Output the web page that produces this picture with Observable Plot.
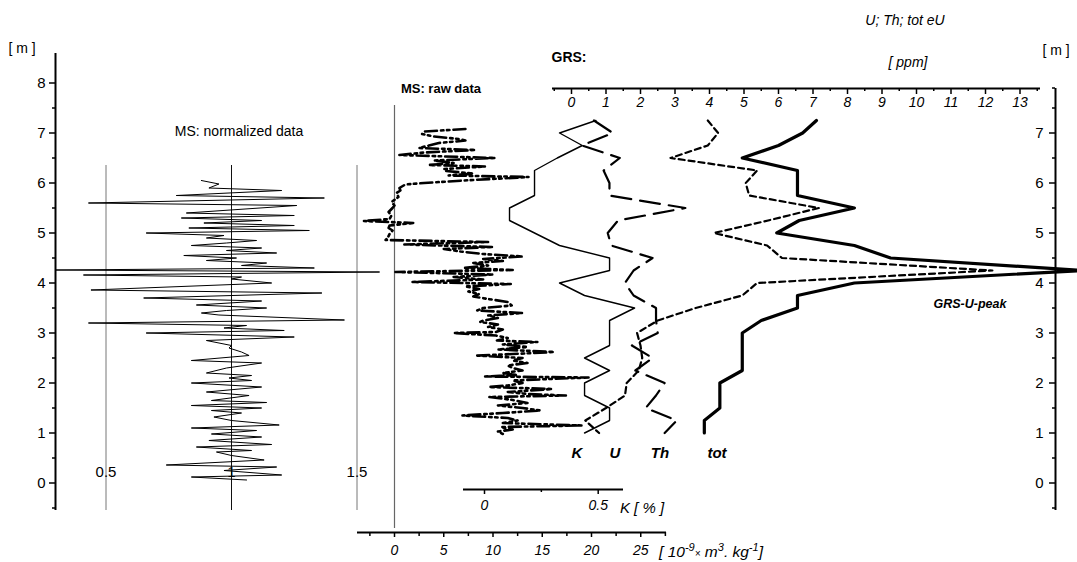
<!DOCTYPE html>
<html><head><meta charset="utf-8">
<script src="https://cdn.jsdelivr.net/npm/d3@7"></script>
<script src="https://cdn.jsdelivr.net/npm/@observablehq/plot@0.6"></script>
<style>
body{margin:0;background:#fff;}
#chart{position:relative;width:1077px;height:562px;overflow:hidden;background:#fff;font-family:"Liberation Sans",Arial,sans-serif;}
#chart svg{position:absolute;left:0;top:0;}
.lbl{position:absolute;white-space:nowrap;transform:translate(-50%,-50%);color:#000;line-height:1;font-size:14px;}
</style></head><body><div id="chart"></div>
<script>
// ---------- axis tick values ----------
const depthTicks = [0,1,2,3,4,5,6,7,8];
const depthMinorTicks = [-0.5,0.5,1.5,2.5,3.5,4.5,5.5,6.5,7.5];
const rightDepthTicks = [0,1,2,3,4,5,6,7];
const rightDepthMinorTicks = [-0.5,0.5,1.5,2.5,3.5,4.5,5.5,6.5,7.5,7.9];
const normTicks = [0.5,1,1.5];
const rawTicks = [0,5,10,15,20,25];
const rawMinorTicks = [-2.5,2.5,7.5,12.5,17.5,22.5,27.5];
const kTicks = [0,0.5];
const kMinorTicks = [0.25];
const ppmTicks = [0,1,2,3,4,5,6,7,8,9,10,11,12,13];
const ppmMinorTicks = [-0.5,0.5,1.5,2.5,3.5,4.5,5.5,6.5,7.5,8.5,9.5,10.5,11.5,12.5,13.5];

// ---------- MS normalized data (depth m, normalized) ----------
const normDepth = [6.05,5.98,5.90,5.85,5.75,5.70,5.60,5.55,5.40,5.35,5.30,5.25,5.20,5.15,5.10,5.05,5.00,4.95,4.90,4.85,4.80,4.75,4.70,4.65,4.60,4.55,4.50,4.45,4.40,4.35,4.30,4.26,4.22,4.16,4.12,4.08,4.00,3.86,3.80,3.70,3.64,3.56,3.50,3.45,3.40,3.36,3.26,3.20,3.15,3.10,3.05,3.00,2.92,2.85,2.75,2.70,2.62,2.55,2.45,2.40,2.30,2.20,2.15,2.10,2.05,2.00,1.92,1.82,1.75,1.65,1.61,1.55,1.50,1.45,1.40,1.32,1.25,1.16,1.10,1.05,0.98,0.92,0.85,0.77,0.72,0.65,0.62,0.55,0.46,0.36,0.32,0.25,0.16,0.12,0.06];
const normValue = [0.88,0.95,0.91,1.20,0.78,1.37,0.43,1.26,0.82,1.25,0.80,1.12,0.89,1.25,0.83,1.31,0.66,0.97,0.90,1.10,0.98,0.84,1.12,0.98,1.18,0.81,1.02,0.90,1.14,1.04,1.33,0.30,1.59,0.41,1.04,1.00,1.16,0.44,1.36,0.65,1.12,0.86,1.14,0.98,0.88,0.95,1.45,0.43,1.06,0.97,1.21,0.66,1.25,0.90,1.00,0.99,1.04,1.07,0.84,1.12,0.98,0.90,1.08,0.99,1.08,0.84,1.12,0.90,1.07,0.92,1.14,0.84,1.12,0.92,1.04,0.93,1.00,1.19,0.84,1.10,0.92,1.12,0.91,1.16,0.86,1.08,0.94,1.00,1.13,0.74,1.18,0.97,1.20,0.84,1.06];

// ---------- MS raw data (depth m, 10^-9 m3/kg) ----------
const rawDepth = [7.08,7.03,6.98,6.93,6.88,6.85,6.80,6.75,6.70,6.66,6.61,6.56,6.50,6.45,6.40,6.36,6.33,6.28,6.24,6.19,6.15,6.12,6.05,6.00,5.97,5.90,5.85,5.80,5.72,5.62,5.55,5.50,5.42,5.35,5.28,5.24,5.20,5.15,5.10,5.05,4.98,4.90,4.86,4.82,4.77,4.72,4.68,4.63,4.58,4.53,4.48,4.44,4.40,4.35,4.30,4.26,4.22,4.17,4.12,4.07,4.02,3.98,3.93,3.88,3.83,3.78,3.73,3.68,3.62,3.55,3.50,3.45,3.40,3.35,3.30,3.25,3.22,3.17,3.12,3.07,3.02,3.00,2.95,2.90,2.85,2.82,2.77,2.72,2.67,2.62,2.57,2.55,2.50,2.45,2.40,2.35,2.30,2.25,2.20,2.16,2.13,2.11,2.05,2.00,1.95,1.92,1.88,1.82,1.78,1.75,1.72,1.66,1.60,1.55,1.50,1.45,1.40,1.35,1.30,1.25,1.20,1.15,1.12,1.07,1.03,0.98];
const rawValue = [7.2,3.0,2.8,4.0,6.5,7.2,4.5,3.5,2.5,8.2,3.0,0.5,10.2,4.0,6.0,3.5,9.2,5.0,5.2,8.0,5.5,13.6,7.0,3.0,1.1,0.5,0.6,0.2,0.4,-0.3,0.0,-0.2,-0.6,-0.3,-0.5,-3.1,1.9,-0.5,-0.6,-0.2,-0.5,-0.7,-0.9,9.5,1.0,10.0,5.0,6.7,9.0,13.0,9.0,11.0,8.0,9.5,7.0,12.0,0.1,10.0,6.0,9.0,1.8,11.8,7.2,8.6,7.5,8.6,8.0,9.5,11.5,11.9,9.0,8.4,13.0,9.5,10.5,9.0,8.7,10.5,9.5,11.0,10.3,6.0,10.3,11.5,10.4,14.5,11.0,13.5,10.5,16.2,11.0,8.2,13.0,12.0,13.5,11.5,12.0,13.0,11.0,12.5,9.2,19.7,12.0,13.0,11.5,9.6,16.0,11.5,13.5,17.4,9.6,12.0,13.5,10.5,13.0,14.8,11.0,6.9,11.5,12.5,11.0,19.0,10.8,12.0,10.5,11.0];

// ---------- GRS data (depth m) ----------
const grsDepth = [7.25,7.0,6.75,6.5,6.25,6.0,5.75,5.5,5.25,5.0,4.75,4.5,4.25,4.0,3.75,3.5,3.25,3.0,2.75,2.5,2.25,2.0,1.75,1.5,1.25,1.0];
const kPercent = [0.49,0.33,0.43,0.32,0.22,0.22,0.22,0.11,0.11,0.22,0.33,0.55,0.55,0.33,0.44,0.66,0.55,0.55,0.55,0.44,0.55,0.44,0.44,0.55,0.55,0.44];
const uPpm = [3.95,4.25,3.95,2.87,5.38,5.05,5.15,7.17,5.7,4.13,5.67,6.1,12.2,5.38,4.95,3.6,2.5,1.9,2.0,2.05,1.95,1.6,1.55,1.0,0.4,0.8];
const thPpm = [0.65,1.2,0.3,1.4,0.93,1.1,1.1,3.3,1.35,1.05,1.15,2.35,1.8,1.55,1.8,2.45,2.45,2.5,1.75,2.35,1.85,2.7,2.45,2.15,3.05,2.7];
const totPpm = [7.1,6.7,6.0,4.95,6.55,6.55,6.55,8.2,6.6,5.95,8.2,9.25,14.8,8.2,6.55,6.55,5.5,4.95,4.95,4.95,4.95,4.3,4.3,4.3,3.85,3.85];

// ---------- layout ----------
const W = 1077, H = 562;
const FONT = '"Liberation Sans", Arial, sans-serif';
const chart = document.getElementById("chart");
const depthY = {domain: [0, 8], range: [482.5, 82.5]};
const unitY = {domain: [0, 1], axis: null};
const fmt = d => String(d);
const blank = () => "";

function layer(o, css) {
  const svg = Plot.plot(Object.assign({width: W, height: H}, o));
  Object.assign(svg.style, {background: "transparent", fontFamily: FONT, fontSize: "14px", overflow: "visible"}, css || {});
  chart.appendChild(svg);
}

// left depth axis
layer({
  marginLeft: 55, marginRight: W - 56, marginTop: 53, marginBottom: 52,
  x: {domain: [0, 1], axis: null}, y: depthY,
  marks: [
    Plot.ruleX([0], {strokeWidth: 2}),
    Plot.axisY(depthTicks, {anchor: "left", tickSize: 6, tickPadding: 4, strokeWidth: 1.5, label: null, tickFormat: fmt, fontSize: 15}),
    Plot.axisY(depthMinorTicks, {anchor: "left", tickSize: 3, strokeWidth: 1.5, tickFormat: blank, label: null})
  ]
});

// right depth axis
layer({
  marginLeft: 1055, marginRight: W - 1056, marginTop: 88, marginBottom: 52,
  x: {domain: [0, 1], axis: null}, y: depthY,
  marks: [
    Plot.ruleX([0], {strokeWidth: 2}),
    Plot.axisY(rightDepthTicks, {anchor: "left", tickSize: 6, tickPadding: 6, strokeWidth: 1.5, label: null, tickFormat: fmt, fontSize: 15}),
    Plot.axisY(rightDepthMinorTicks, {anchor: "left", tickSize: 3, strokeWidth: 1.5, tickFormat: blank, label: null})
  ]
});

// MS normalized data
layer({
  marginLeft: 0, marginRight: 0, marginTop: 165, marginBottom: 52,
  x: {domain: [0.5, 1.5], range: [105.5, 356.5], axis: null}, y: Object.assign({axis: null}, depthY),
  marks: [
    Plot.ruleX(normTicks, {stroke: d => d === 1 ? "#111" : "#777", strokeWidth: 1}),
    Plot.line(normDepth, {x: normValue, y: normDepth, stroke: "#000", strokeWidth: 1})
  ]
});
// normalized tick labels
layer({
  marginLeft: 0, marginRight: 0, marginTop: 100, marginBottom: 97,
  x: {domain: [0.5, 1.5], range: [105.5, 356.5]}, y: unitY,
  marks: [Plot.axisX(normTicks, {anchor: "bottom", tickSize: 0, tickPadding: 1, label: null, tickFormat: fmt, fontSize: 15})]
});

// MS raw data
layer({
  marginLeft: 0, marginRight: 0, marginTop: 105, marginBottom: 34,
  x: {domain: [0, 25], range: [394, 640.25], axis: null}, y: Object.assign({axis: null}, depthY),
  marks: [
    Plot.ruleX([0], {stroke: "#666", strokeWidth: 1.2}),
    Plot.line(rawDepth, {x: rawValue, y: rawDepth, stroke: "#000", strokeWidth: 2.6, strokeDasharray: "12,4,2.5,3.5,2.5,4"})
  ]
});
// MS raw axis (bottom)
layer({
  marginLeft: 357, marginRight: W - 666, marginTop: 531, marginBottom: 30,
  x: {domain: [0, 25], range: [394, 640.25]}, y: unitY,
  marks: [
    Plot.ruleY([0], {strokeWidth: 2}),
    Plot.axisX(rawTicks, {anchor: "bottom", tickSize: 5, tickPadding: 8, strokeWidth: 1.5, label: null, tickFormat: fmt, fontSize: 14}),
    Plot.axisX(rawMinorTicks, {anchor: "bottom", tickSize: 4, strokeWidth: 1.5, tickFormat: blank, label: null})
  ]
}, {fontStyle: "italic"});

// K data
layer({
  marginLeft: 0, marginRight: 0, marginTop: 20, marginBottom: 20,
  x: {domain: [0, 0.5], range: [484, 597.7], axis: null}, y: Object.assign({axis: null}, depthY),
  marks: [Plot.line(grsDepth, {x: kPercent, y: grsDepth, stroke: "#000", strokeWidth: 1.4})]
});
// K axis
layer({
  marginLeft: 463, marginRight: W - 623, marginTop: 488, marginBottom: 73,
  x: {domain: [0, 0.5], range: [484, 597.7]}, y: unitY,
  marks: [
    Plot.ruleY([0], {strokeWidth: 2}),
    Plot.axisX(kTicks, {anchor: "bottom", tickSize: 5, tickPadding: 6, strokeWidth: 1.5, label: null, tickFormat: fmt, fontSize: 14}),
    Plot.axisX(kMinorTicks, {anchor: "bottom", tickSize: 3, strokeWidth: 1.5, tickFormat: blank, label: null})
  ]
}, {fontStyle: "italic"});

// GRS U, Th, total
layer({
  marginLeft: 0, marginRight: 0, marginTop: 20, marginBottom: 20,
  x: {domain: [0, 13], range: [571, 1019.5], axis: null}, y: Object.assign({axis: null}, depthY),
  marks: [
    Plot.line(grsDepth, {x: thPpm, y: grsDepth, stroke: "#000", strokeWidth: 2.2, strokeDasharray: "20,9"}),
    Plot.line(grsDepth, {x: uPpm, y: grsDepth, stroke: "#000", strokeWidth: 2.2, strokeDasharray: "6,4"}),
    Plot.line(grsDepth, {x: totPpm, y: grsDepth, stroke: "#000", strokeWidth: 3.2})
  ]
});
// GRS ppm axis (top)
layer({
  marginLeft: 552, marginRight: W - 1040, marginTop: 87, marginBottom: H - 88,
  x: {domain: [0, 13], range: [571, 1019.5]}, y: unitY,
  marks: [
    Plot.ruleY([0], {strokeWidth: 2}),
    Plot.axisX(ppmTicks, {anchor: "bottom", tickSize: 6, tickPadding: 3, strokeWidth: 1.5, label: null, tickFormat: fmt, fontSize: 14}),
    Plot.axisX(ppmMinorTicks, {anchor: "bottom", tickSize: 3, strokeWidth: 1.5, tickFormat: blank, label: null})
  ]
}, {fontStyle: "italic"});

// ---------- text annotations ----------
function label(html, x, y, css) {
  const d = document.createElement("div");
  d.className = "lbl";
  d.innerHTML = html;
  d.style.left = x + "px";
  d.style.top = y + "px";
  Object.assign(d.style, css || {});
  chart.appendChild(d);
}
label("[ m ]", 22, 48);
label("[ m ]", 1056, 50);
label("MS: normalized data", 239, 131);
label("MS: raw data", 441, 88, {fontWeight: "bold", fontSize: "13px"});
label("GRS:", 569, 57, {fontWeight: "bold", fontSize: "14px"});
label("U; Th; tot eU", 905, 20, {fontStyle: "italic"});
label("[ ppm]", 908, 62, {fontStyle: "italic"});
label("GRS-U-peak", 970, 304, {fontStyle: "italic", fontWeight: "bold", fontSize: "12.5px"});
label("K", 577, 452, {fontStyle: "italic", fontWeight: "bold", fontSize: "15px"});
label("U", 615, 452, {fontStyle: "italic", fontWeight: "bold", fontSize: "15px"});
label("Th", 660, 452, {fontStyle: "italic", fontWeight: "bold", fontSize: "15px"});
label("tot", 717, 452, {fontStyle: "italic", fontWeight: "bold", fontSize: "15px"});
label("K&nbsp;[ % ]", 642, 507, {fontStyle: "italic", fontSize: "15px"});
label("[ 10<sup style='font-size:11px'>-9</sup><span style='font-size:10px'>×</span> m<sup style='font-size:11px'>3</sup>. kg<sup style='font-size:11px'>-1</sup>]", 711, 551, {fontStyle: "italic", fontSize: "15.5px"});
</script></body></html>
